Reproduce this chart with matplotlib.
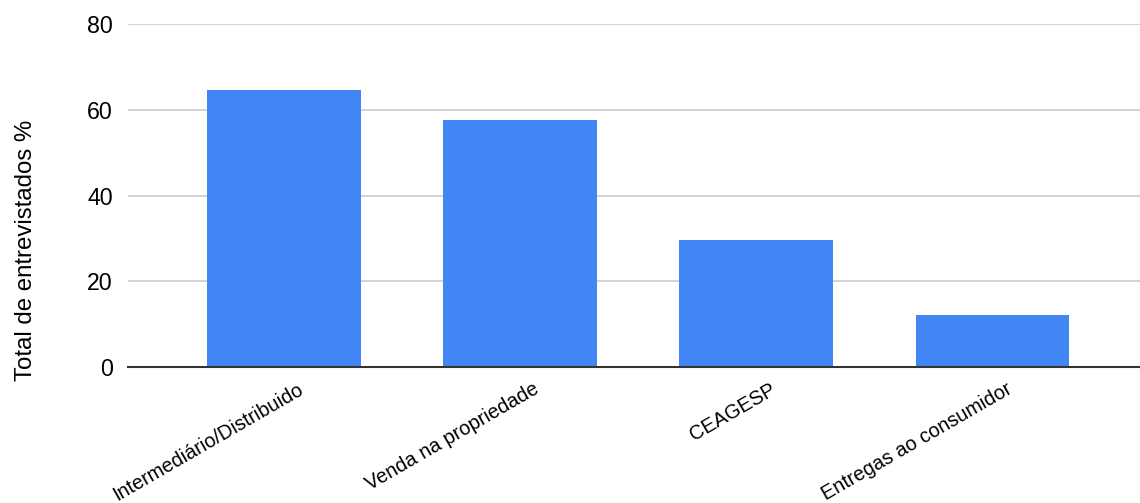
import matplotlib
matplotlib.use("Agg")
import matplotlib.pyplot as plt
import matplotlib.transforms as mtransforms

plt.rcParams['font.family'] = ['Liberation Sans', 'DejaVu Sans']

categorias = ["Intermediário/Distribuido", "Venda na propriedade",
              "CEAGESP", "Entregas ao consumidor"]
percentuais = [64.6, 57.7, 29.6, 12.1]
y_ticks = [0, 20, 40, 60, 80]

fig = plt.figure(figsize=(11.4, 5.03), dpi=100)
ax = fig.add_axes([0.1123, 0.270, 0.8877, 0.682])

x = range(len(categorias))
ax.bar(x, percentuais, width=0.65, color="#4285F4", zorder=3)

ax.set_ylim(0, 80)
ax.set_xlim(-0.66, 3.625)
ax.set_yticks(y_ticks)
ax.set_yticklabels([str(t) for t in y_ticks], fontsize=16.7)
ax.yaxis.grid(True, color="#cccccc", linewidth=1.2, zorder=0)
ax.tick_params(axis='y', length=0, pad=11)
ax.tick_params(axis='x', length=0, pad=9)

ax.set_xticks(list(x))
ax.set_xticklabels(categorias, fontsize=14.3, rotation=30,
                   ha='right', rotation_mode='anchor')
# nudge the slanted labels a little to the right of each bar centre
deslocamento = mtransforms.ScaledTranslation(0.13, 0, fig.dpi_scale_trans)
for lbl in ax.get_xticklabels():
    lbl.set_transform(lbl.get_transform() + deslocamento)

for side in ['top', 'right', 'left']:
    ax.spines[side].set_visible(False)
ax.spines['bottom'].set_color("#333333")
ax.spines['bottom'].set_linewidth(1.5)
ax.spines['bottom'].set_zorder(4)

ax.set_ylabel("Total de entrevistados %", fontsize=17.3)
ax.yaxis.set_label_coords(-0.0895, 0.34)

fig.savefig("out.png", dpi=100)
